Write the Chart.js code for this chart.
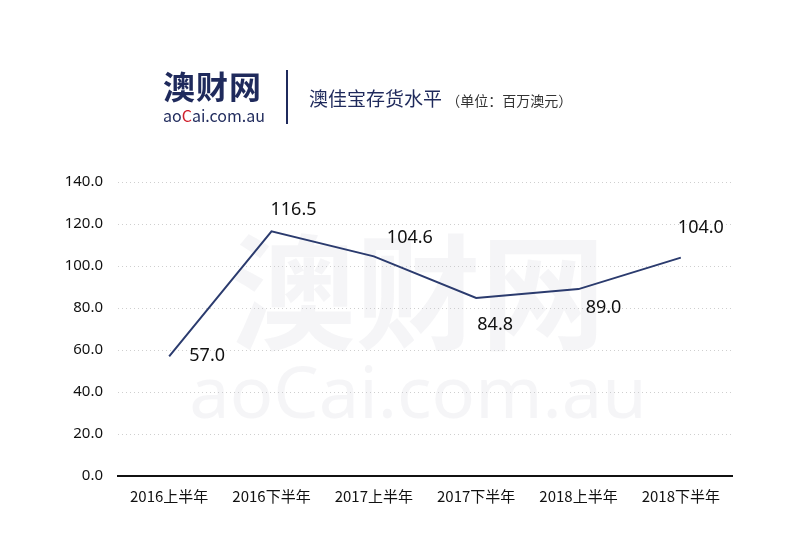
<!DOCTYPE html>
<html><head><meta charset="utf-8">
<script src="https://cdn.jsdelivr.net/npm/chart.js@4"></script>
<style>
body{margin:0;background:#fff;font-family:"Noto Sans CJK SC","Noto Sans",sans-serif;}
#wrap{position:relative;width:800px;height:550px;}
canvas{position:absolute;left:0;top:0;}
.t{position:absolute;white-space:nowrap;}
</style></head><body>
<div id="wrap">
<canvas id="c" width="800" height="550"></canvas>
<div class="t" style="left:163px;top:62px;font-size:32px;font-weight:bold;color:#1f2a5c;letter-spacing:1px">澳财网</div>
<div class="t" style="left:163px;top:103px;font-size:16px;color:#1f2a5c"><span>a</span><span>o</span><span style="color:#d0202c">C</span>ai.com.au</div>
<div class="t" style="left:286px;top:70px;width:2px;height:54px;background:#1f2a5c"></div>
<div class="t" style="left:309px;top:84px;font-size:19px;color:#1f2a5c">澳佳宝存货水平 <span style="font-size:14px;color:#333">（单位：百万澳元）</span></div>
</div>
<script>
const categories=["2016上半年","2016下半年","2017上半年","2017下半年","2018上半年","2018下半年"];
const values=[57.0,116.5,104.6,84.8,89.0,104.0];
const yTicks=[0,20,40,60,80,100,120,140];
const labelPos=[[38,0],[22,-21],[36,-18],[19,27],[25,19],[20,-30]];
const labelPlugin={id:'lbl',
 beforeDatasetsDraw(ch){const c=ch.ctx;c.save();c.fillStyle='rgba(200,200,210,0.18)';c.font='bold 125px "Noto Sans CJK SC"';c.textAlign='center';c.fillText('澳财网',418,340);c.font='72px "Noto Sans"';c.fillText('aoCai.com.au',418,418);c.restore();},
 afterDatasetsDraw(ch){const c=ch.ctx;const m=ch.getDatasetMeta(0);c.save();c.font='18px "Noto Sans"';c.fillStyle='#111';c.textAlign='center';c.textBaseline='middle';
 m.data.forEach((p,i)=>{c.fillText(values[i].toFixed(1),p.x+labelPos[i][0],p.y+labelPos[i][1]);});c.restore();}};
new Chart(document.getElementById('c'),{type:'line',
data:{labels:categories,datasets:[{data:values,borderColor:'#2b3b6e',borderWidth:2,pointRadius:0,tension:0}]},
options:{responsive:false,animation:false,
layout:{padding:{top:182,left:40,right:68,bottom:42}},
plugins:{legend:{display:false},tooltip:{enabled:false}},
scales:{
 x:{offset:true,grid:{display:false},border:{color:'#111',width:2},ticks:{color:'#111',font:{size:15,family:'"Noto Sans CJK SC"'},maxRotation:0}},
 y:{min:0,max:140,afterBuildTicks(s){s.ticks=yTicks.map(v=>({value:v}));},afterFit(s){s.width=78;},
  grid:{color:'#cfcfcf',drawTicks:false,lineWidth:1},border:{display:false,dash:[1,3]},
  ticks:{color:'#111',padding:15,font:{size:15,family:'"Noto Sans"'},callback:v=>v.toFixed(1)}}}},
plugins:[labelPlugin]});
</script></body></html>
